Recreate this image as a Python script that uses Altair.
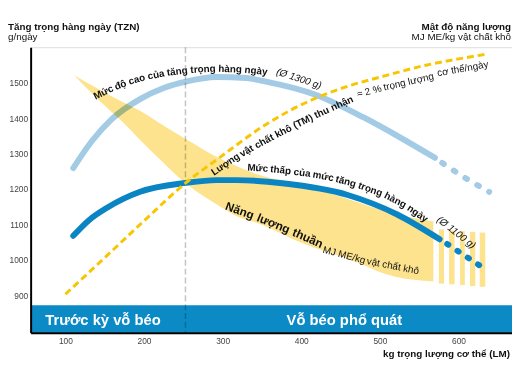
import altair as alt
import pandas as pd

# ---------------- data (kg body weight -> g/day) ----------------
x_ticks = [100, 200, 300, 400, 500, 600]
y_ticks = [900, 1000, 1100, 1200, 1300, 1400, 1500]
x_domain = [55.8, 668]
y_domain = [794.4, 1600]

high_x = [110, 134, 159, 196, 225, 253, 292, 330, 355, 418, 480, 526, 570]
high_y = [1259, 1336, 1397, 1455, 1485, 1503, 1516, 1513, 1503, 1466, 1401, 1345, 1288]
high_ext_x = [570, 583, 608, 639]
high_ext_y = [1288, 1268, 1232, 1192]

low_x = [110, 130, 153, 195, 253, 292, 318, 376, 459, 522, 576]
low_y = [1068, 1112, 1147, 1192, 1217, 1225, 1225, 1216, 1183, 1128, 1058]
low_ext_x = [576, 589, 603, 616, 631]
low_ext_y = [1058, 1040, 1019, 1000, 978]

dm_x = [100, 150, 200, 253, 297, 355, 418, 465, 501, 560, 600, 634]
dm_y = [903, 1006, 1110, 1217, 1290, 1382, 1456, 1494, 1516, 1550, 1567, 1580]

band_x = [111, 142, 155, 176, 196, 217, 253, 301, 318, 343, 405, 459, 518, 568]
band_hi = [1521, 1482, 1466, 1442, 1419, 1390, 1341, 1281, 1264, 1242, 1210, 1172, 1130, 1108]
band_lo = [1521, 1452, 1425, 1382, 1336, 1290, 1216, 1145, 1123, 1105, 1044, 1003, 953, 939]

stripe_x0 = [575, 588, 602, 614.5, 627]
stripe_x1 = [581.5, 595, 608, 621.3, 634]
stripe_top = [1086, 1083, 1081, 1079, 1077]
stripe_bottom = [933, 931, 929, 926, 924]

stage_boundary = [252.7]
phase_y = [794.4, 872.2]
phase_labels = ["Trước kỳ vỗ béo", "Vỗ béo phổ quát"]
phase_label_x = [147.8, 454.8]
phase_label_y = [831, 831]

high_words = ["Mức", "độ", "cao", "của", "tăng", "trọng", "hàng", "ngày"]
high_word_x = [148.4, 170.1, 190.9, 215.3, 242.3, 275.0, 309.4, 342.5]
high_word_y = [1472, 1493, 1508.6, 1521.7, 1531, 1537.5, 1538, 1533]
high_word_a = [-26, -21, -16, -11, -7, -3, 2, 6]

low_words = ["Mức", "thấp", "của", "mức", "tăng", "trọng", "hàng", "ngày"]
low_word_x = [344.6, 373.8, 401.1, 427.9, 456.7, 487.8, 519.5, 547.8]
low_word_y = [1258.3, 1252.8, 1245.3, 1235.3, 1220.6, 1198.6, 1168.1, 1130.3]
low_word_a = [4, 6, 8, 11, 15, 20, 27, 35]

dm_words = ["Lượng", "vật", "chất", "khô", "(TM)", "thu", "nhận"]
dm_word_x = [303.7, 330.6, 352.9, 377.3, 402.2, 426.1, 451.8]
dm_word_y = [1269.4, 1306.7, 1334.2, 1362.2, 1390.0, 1415.3, 1441.1]
dm_word_a = [-34, -30, -28, -27, -26, -25, -24]

dm_note = ["≈ 2 %", "trọng lượng", "cơ thể/ngày"]
dm_note_x = [486.5, 536.6, 605.4]
dm_note_y = [1475, 1502, 1539]
dm_note_a = [-15, -13, -10]

avg_labels = ["(Ø 1300 g)", "(Ø 1100 g)"]
avg_x = [397, 597]
avg_y = [1511, 1077]
avg_a = [18, 38]

ne_words = ["Năng", "lượng", "thuần"]
ne_x = [321.8, 364.6, 408.3]
ne_y = [1138.9, 1102.5, 1061.4]
ne_a = [20, 22, 24]

ne_unit = ["MJ ME/kg", "vật chất khô"]
ne_unit_x = [454.5, 516.5]
ne_unit_y = [1013, 982]
ne_unit_a = [15, 11]

FONT = "Liberation Sans, Arial, sans-serif"

# ---------------- helpers ----------------
X = alt.X("x:Q", scale=alt.Scale(domain=x_domain, nice=False, zero=False),
          axis=alt.Axis(values=x_ticks, title=None, ticks=False, grid=False, format="d",
                        labelFontSize=8.5, labelColor="#444", labelPadding=4,
                        domainColor="#000", domainWidth=2, zindex=1, labelFont=FONT))
Y = alt.Y("y:Q", scale=alt.Scale(domain=y_domain, nice=False, zero=False),
          axis=alt.Axis(values=y_ticks, title=None, ticks=False, grid=False, format="d",
                        labelFontSize=8.5, labelColor="#444", labelPadding=3,
                        domainColor="#000", domainWidth=2, zindex=1, labelFont=FONT))


def line_df(xs, ys):
    return pd.DataFrame({"x": xs, "y": ys})


def text_df(words, xs, ys, angs):
    return pd.DataFrame({"t": words, "x": xs, "y": ys, "a": [a % 360 for a in angs]})


def text_layer(df, size, weight="bold", style="normal", color="#111"):
    return alt.Chart(df).mark_text(
        font=FONT, fontSize=size, fontWeight=weight, fontStyle=style,
        color=color, align="center", baseline="middle"
    ).encode(x="x:Q", y="y:Q", text="t:N", angle=alt.Angle("a:Q", scale=None))


band = alt.Chart(pd.DataFrame({"x": band_x, "lo": band_lo, "hi": band_hi})).mark_area(
    color="#FDE38E", interpolate="monotone"
).encode(x=X, y=alt.Y("lo:Q"), y2="hi:Q")

stripes = alt.Chart(pd.DataFrame({"x": stripe_x0, "x1": stripe_x1,
                                  "y": stripe_bottom, "y1": stripe_top})).mark_rect(
    color="#FDE38E"
).encode(x="x:Q", x2="x1:Q", y="y:Q", y2="y1:Q")

phase = alt.Chart(pd.DataFrame({"x": [x_domain[0]], "x1": [x_domain[1]],
                                "y": [phase_y[0]], "y1": [phase_y[1]]})).mark_rect(
    color="#0B8AC5"
).encode(x="x:Q", x2="x1:Q", y=Y, y2="y1:Q")

boundary = alt.Chart(pd.DataFrame({"x": stage_boundary})).mark_rule(
    color="#C4C4C4", strokeWidth=1.5, strokeDash=[6, 3], blend="multiply"
).encode(x="x:Q")

high = alt.Chart(line_df(high_x, high_y)).mark_line(
    color="#A3CBE5", strokeWidth=6, strokeCap="round", interpolate="monotone", blend="multiply"
).encode(x="x:Q", y="y:Q")
high_ext = alt.Chart(line_df(high_ext_x, high_ext_y)).mark_line(
    color="#A3CBE5", strokeWidth=6, strokeCap="round", strokeDash=[2, 12],
    strokeDashOffset=-9, interpolate="monotone", blend="multiply"
).encode(x="x:Q", y="y:Q")

low = alt.Chart(line_df(low_x, low_y)).mark_line(
    color="#0A84C2", strokeWidth=6, strokeCap="round", interpolate="monotone"
).encode(x="x:Q", y="y:Q")
low_ext = alt.Chart(line_df(low_ext_x, low_ext_y)).mark_line(
    color="#0A84C2", strokeWidth=6, strokeCap="round", strokeDash=[1.5, 11],
    strokeDashOffset=-9, interpolate="monotone"
).encode(x="x:Q", y="y:Q")

dm = alt.Chart(line_df(dm_x, dm_y)).mark_line(
    color="#F7C600", strokeWidth=3, strokeDash=[7, 4], interpolate="monotone"
).encode(x="x:Q", y="y:Q")

labels = [
    text_layer(text_df(high_words, high_word_x, high_word_y, high_word_a), 10),
    text_layer(text_df(low_words, low_word_x, low_word_y, low_word_a), 10),
    text_layer(text_df(dm_words, dm_word_x, dm_word_y, dm_word_a), 10),
    text_layer(text_df(dm_note, dm_note_x, dm_note_y, dm_note_a), 10, weight="normal"),
    text_layer(text_df(avg_labels, avg_x, avg_y, avg_a), 10, weight="normal", style="italic"),
    text_layer(text_df(ne_words, ne_x, ne_y, ne_a), 12),
    text_layer(text_df(ne_unit, ne_unit_x, ne_unit_y, ne_unit_a), 10, weight="normal"),
    text_layer(text_df(phase_labels, phase_label_x, phase_label_y, [0, 0]), 15, color="#FFFFFF"),
]


def fixed_text(txt, px, py, size, weight, align):
    return alt.Chart(pd.DataFrame({"t": [txt]})).mark_text(
        font=FONT, fontSize=size, fontWeight=weight, color="#111",
        align=align, baseline="middle"
    ).encode(text="t:N", x=alt.value(px), y=alt.value(py))


titles = [
    fixed_text("Tăng trọng hàng ngày (TZN)", -23, -21, 10, "bold", "left"),
    fixed_text("g/ngày", -23, -10, 10, "normal", "left"),
    fixed_text("Mật độ năng lượng", 488, -21, 10, "bold", "right"),
    fixed_text("MJ ME/kg vật chất khô", 488, -10, 10, "normal", "right"),
    fixed_text("kg trọng lượng cơ thể (LM)", 487, 312, 10, "bold", "right"),
]

chart = alt.layer(
    phase, band, stripes, boundary, high, high_ext, low, low_ext, dm, *labels, *titles
).properties(
    width=489, height=290,
    autosize=alt.AutoSizeParams(type="none"),
    padding={"left": 23, "top": 37, "right": 0, "bottom": 32},
).configure_view(stroke=None).configure(font=FONT)

chart.save("out.html", embed_options={"renderer": "svg", "actions": False})
